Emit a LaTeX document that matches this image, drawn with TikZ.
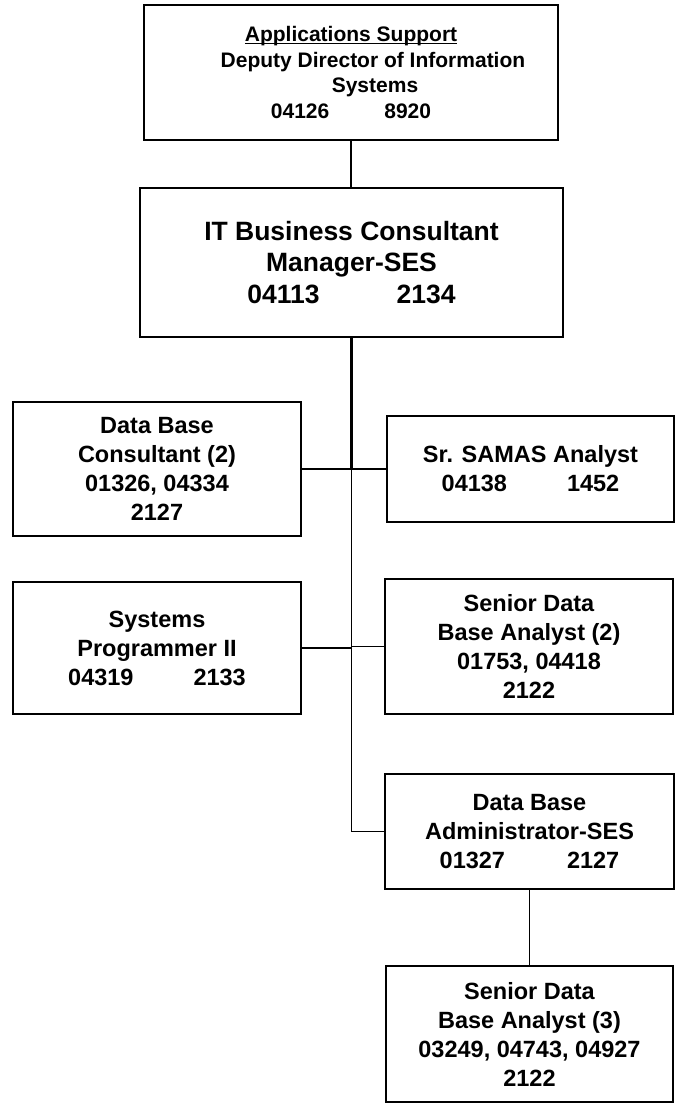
\documentclass[tikz,border=0pt]{standalone}
\usepackage{fontspec}
\setmainfont{Liberation Sans}
% underline drawn just under the baseline, like a word processor does
\newcommand\ulword[1]{\setbox0\hbox{#1}\rlap{\rule[-2.2pt]{\wd0}{1.3pt}}\box0}
\begin{document}
\begin{tikzpicture}[x=1pt,y=-1pt,
  box/.style={draw, line width=1.8pt, inner sep=0pt, align=center,
    font=\bfseries\fontsize{23.5}{29}\selectfont},
  topbox/.style={box, font=\bfseries\fontsize{21}{25.5}\selectfont},
  bigbox/.style={box, font=\bfseries\fontsize{26.5}{31.7}\selectfont},
  link/.style={line width=1.8pt}]
\useasboundingbox (0,0) rectangle (676,1103);

% boxes
\node[topbox, minimum width=414pt, minimum height=135pt] (dir) at (351,72.5)
  {\ulword{Applications Support}\\
   \hspace*{44pt}Deputy Director of Information\\
   \hspace*{48pt}Systems\\
   04126\hspace{55pt}8920};
\node[bigbox, minimum width=423pt, minimum height=149pt] (mgr) at (351.5,262.5)
  {IT Business Consultant\\Manager-SES\\04113\hspace{77pt}2134};
\node[box, minimum width=288pt, minimum height=134pt] (dbc) at (157,469)
  {Data Base\\Consultant (2)\\01326, 04334\\2127};
\node[box, minimum width=287pt, minimum height=106pt] (samas) at (530.5,469)
  {Sr. SAMAS Analyst\\04138\hspace{60pt}1452};
\node[box, minimum width=288pt, minimum height=132pt] (sysp) at (157,648)
  {Systems\\Programmer II\\04319\hspace{60pt}2133};
\node[box, minimum width=288pt, minimum height=135pt] (sdba2) at (529,646.5)
  {Senior Data\\Base Analyst (2)\\01753, 04418\\2122};
\node[box, minimum width=289pt, minimum height=115pt] (dba) at (529.5,831.5)
  {Data Base\\Administrator-SES\\01327\hspace{62pt}2127};
\node[box, minimum width=287pt, minimum height=136pt] (sdba3) at (529.5,1034)
  {Senior Data\\Base Analyst (3)\\03249, 04743, 04927\\2122};

% connectors
\draw[link] (dir.south) -- (mgr.north -| dir.south);
\draw[link] (mgr.south) |- (dba.west);
\draw[link, line width=2.6pt] (mgr.south) -- (dbc.east -| mgr.south);
\draw[link] (dbc.east) -- (samas.west);
\draw[link] (sysp.east) -- (sysp.east -| mgr.south);
\draw[link] (sdba2.west) -- (sdba2.west -| mgr.south);
\draw[link] (dba.south) -- (sdba3.north -| dba.south);
\end{tikzpicture}
\end{document}
